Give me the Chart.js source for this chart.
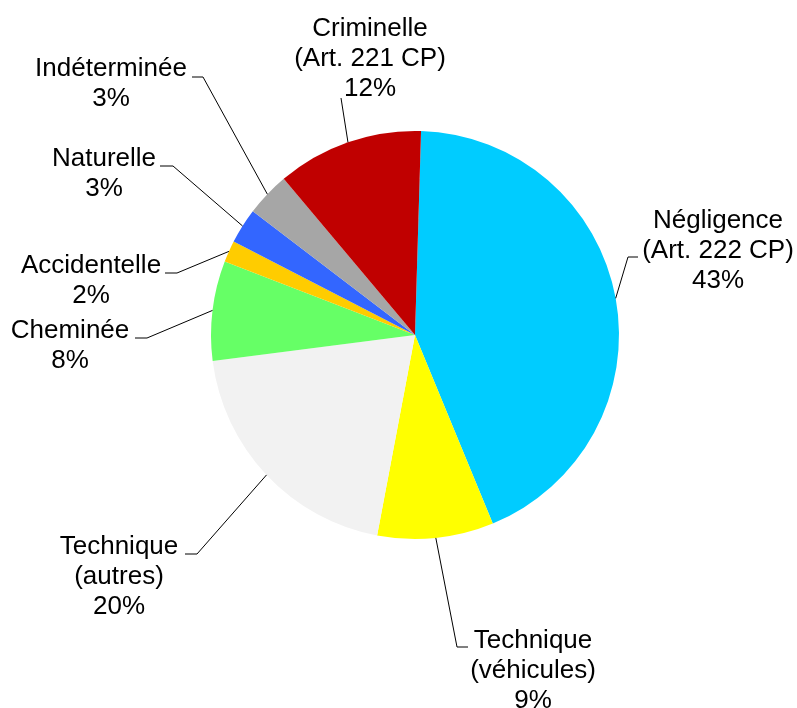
<!DOCTYPE html>
<html>
<head>
<meta charset="utf-8">
<script src="https://cdn.jsdelivr.net/npm/chart.js@4.4.0/dist/chart.umd.min.js"></script>
<style>
    body { margin: 0; background: #ffffff; }
    #wrap { width: 797px; height: 708px; position: relative; }
</style>
</head>
<body>
<div id="wrap"><canvas id="pie"></canvas></div>
<script>
// categories, clockwise from the top
var categories = [
    ['Négligence', '(Art. 222 CP)'],
    ['Technique', '(véhicules)'],
    ['Technique', '(autres)'],
    ['Cheminée'],
    ['Accidentelle'],
    ['Naturelle'],
    ['Indéterminée'],
    ['Criminelle', '(Art. 221 CP)']
];
var shares = [43.3, 9.2, 20.0, 7.9, 1.7, 2.8, 3.5, 11.6];
var shareLabels = ['43%', '9%', '20%', '8%', '2%', '3%', '3%', '12%'];

var colors = ['#00CCFF', '#FFFF00', '#F2F2F2', '#66FF66', '#FFCC00', '#3366FF', '#A6A6A6', '#C00000'];

// where each label sits and how its leader line bends (x, y in px)
var labelPos = [
    { x: 718, y: 221, path: [[628, 257], [638, 257]] },
    { x: 533, y: 641, path: [[457, 647], [468, 647]] },
    { x: 119, y: 547, path: [[197, 554], [185, 554]] },
    { x: 70,  y: 331, path: [[147, 338], [135, 338]] },
    { x: 91,  y: 266, path: [[177, 273], [165, 273]] },
    { x: 104, y: 159, path: [[173, 166], [160, 166]] },
    { x: 111, y: 69,  path: [[203, 77], [192, 77]] },
    { x: 370, y: 29,  path: [[341, 98]] }
];
var lineGap = 30;

var outsideLabels = {
    id: 'outsideLabels',
    afterDraw: function (chart) {
        var ctx = chart.ctx;
        var arcs = chart.getDatasetMeta(0).data;
        ctx.save();
        ctx.strokeStyle = '#000000';
        ctx.lineWidth = 1;
        ctx.fillStyle = '#000000';
        ctx.font = '26px "Liberation Sans", Arial, sans-serif';
        ctx.textAlign = 'center';
        ctx.textBaseline = 'middle';
        arcs.forEach(function (arc, i) {
            var p = arc.getProps(['x', 'y', 'startAngle', 'endAngle', 'outerRadius'], true);
            var mid = (p.startAngle + p.endAngle) / 2;
            var ex = p.x + Math.cos(mid) * p.outerRadius;
            var ey = p.y + Math.sin(mid) * p.outerRadius;
            var pos = labelPos[i];
            ctx.beginPath();
            ctx.moveTo(ex, ey);
            pos.path.forEach(function (pt) { ctx.lineTo(pt[0], pt[1]); });
            ctx.stroke();
            var lines = categories[i].concat([shareLabels[i]]);
            lines.forEach(function (t, k) {
                ctx.fillText(t, pos.x, pos.y + k * lineGap);
            });
        });
        ctx.restore();
    }
};

var ctx = document.getElementById('pie').getContext('2d');
var myChart = new Chart(ctx, {
    type: 'pie',
    data: {
        labels: categories.map(function (c) { return c.join(' '); }),
        datasets: [{
            data: shares,
            backgroundColor: colors,
            borderWidth: 0
        }]
    },
    options: {
        responsive: true,
        maintainAspectRatio: false,
        animation: false,
        rotation: 1.7,
        layout: { padding: { top: 131, bottom: 169, left: 211, right: 178 } },
        plugins: {
            legend: { display: false },
            tooltip: { enabled: false }
        }
    },
    plugins: [outsideLabels]
});
</script>
</body>
</html>
